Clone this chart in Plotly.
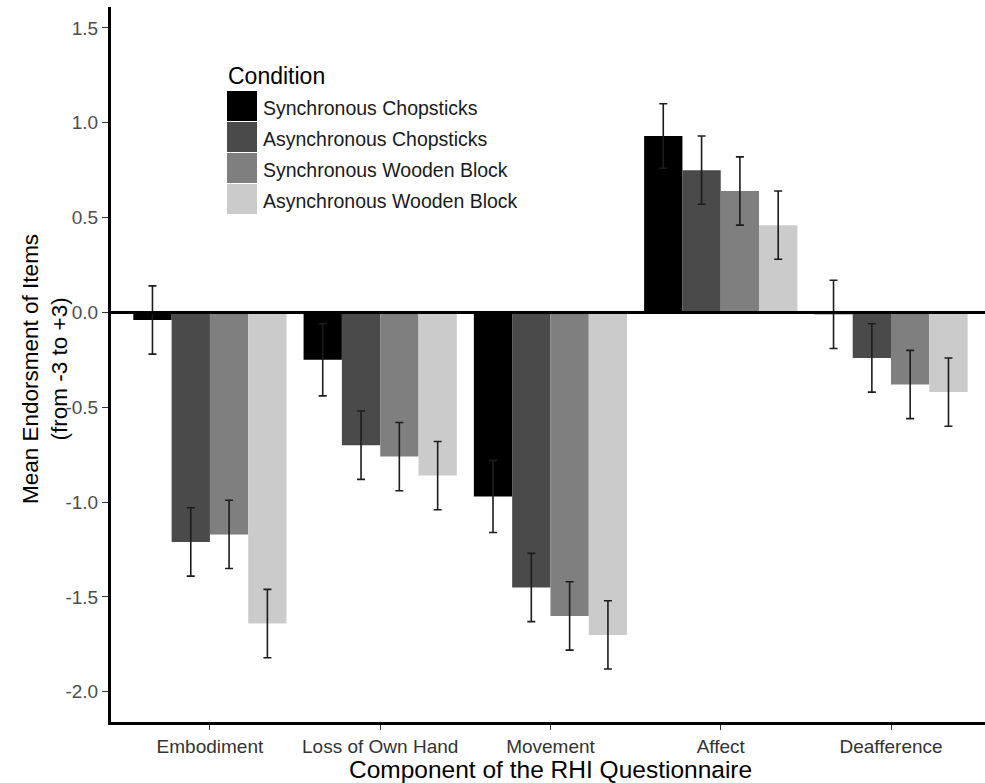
import plotly.graph_objects as go

# ---------------- data ----------------
components = ["Embodiment", "Loss of Own Hand", "Movement", "Affect", "Deafference"]
conditions = ["Synchronous Chopsticks", "Asynchronous Chopsticks",
              "Synchronous Wooden Block", "Asynchronous Wooden Block"]
colors = ["#000000", "#4a4a4a", "#7f7f7f", "#cbcbcb"]

sync_chop_mean = [-0.04, -0.25, -0.97, 0.93, -0.01]
async_chop_mean = [-1.21, -0.70, -1.45, 0.75, -0.24]
sync_wood_mean = [-1.17, -0.76, -1.60, 0.64, -0.38]
async_wood_mean = [-1.64, -0.86, -1.70, 0.46, -0.42]

sync_chop_se = [0.18, 0.19, 0.19, 0.17, 0.18]
async_chop_se = [0.18, 0.18, 0.18, 0.18, 0.18]
sync_wood_se = [0.18, 0.18, 0.18, 0.18, 0.18]
async_wood_se = [0.18, 0.18, 0.18, 0.18, 0.18]

y_tick_vals = [1.5, 1.0, 0.5, 0.0, -0.5, -1.0, -1.5, -2.0]
y_tick_text = ["1.5", "1.0", "0.5", "0.0", "-0.5", "-1.0", "-1.5", "-2.0"]

means = [sync_chop_mean, async_chop_mean, sync_wood_mean, async_wood_mean]
ses = [sync_chop_se, async_chop_se, sync_wood_se, async_wood_se]

# ---------------- figure ----------------
W, H = 985, 783
ML, MR, MT, MB = 111, 0, 7, 61
PW, PH = W - ML - MR, H - MT - MB

font = "Liberation Sans, Arial, sans-serif"

fig = go.Figure()
for name, col, m, s in zip(conditions, colors, means, ses):
    fig.add_trace(go.Bar(
        x=list(range(len(components))), y=m, name=name,
        marker=dict(color=col, line=dict(width=0)),
        error_y=dict(type="data", array=s, visible=True,
                     color="#1c1c1c", thickness=1.6, width=4),
        showlegend=False,
    ))

def px_x(p):
    return (p - ML) / PW

def px_y(p):
    return (H - MB - p) / PH

shapes = [
    # zero reference line (on top of bars)
    dict(type="line", xref="paper", yref="y", x0=0, x1=1, y0=0, y1=0,
         line=dict(color="black", width=3), layer="above"),
]
annotations = []

# custom legend (ggplot-style large keys)
annotations.append(dict(text="Condition", xref="paper", yref="paper",
                        x=px_x(226), y=px_y(76), xanchor="left", yanchor="middle",
                        showarrow=False, font=dict(family=font, size=23, color="black")))
for i, (name, col) in enumerate(zip(conditions, colors)):
    yc = 106 + 31 * i
    shapes.append(dict(type="rect", xref="paper", yref="paper",
                       x0=px_x(227), x1=px_x(257), y0=px_y(yc - 15), y1=px_y(yc + 15),
                       fillcolor=col, line=dict(width=0), layer="above"))
    annotations.append(dict(text=name, xref="paper", yref="paper",
                            x=px_x(261), y=px_y(yc + 2), xanchor="left", yanchor="middle",
                            showarrow=False, font=dict(family=font, size=19.5, color="#1a1a1a")))

# axis titles
annotations.append(dict(text="Component of the RHI Questionnaire", xref="paper", yref="paper",
                        x=px_x(550), y=px_y(770), xanchor="center", yanchor="middle",
                        showarrow=False, font=dict(family=font, size=24.5, color="black")))
annotations.append(dict(text="Mean Endorsment of Items<br>(from -3 to +3)", xref="paper", yref="paper",
                        x=px_x(45), y=px_y(369), xanchor="center", yanchor="middle",
                        textangle=-90, showarrow=False,
                        font=dict(family=font, size=22.5, color="black")))

fig.update_layout(
    width=W, height=H,
    margin=dict(l=ML, r=MR, t=MT, b=MB),
    paper_bgcolor="white", plot_bgcolor="white",
    barmode="group", bargap=0.1, bargroupgap=0.0,
    font=dict(family=font),
    shapes=shapes, annotations=annotations,
    xaxis=dict(
        range=[-0.581, 4.552],
        tickvals=list(range(len(components))), ticktext=components,
        ticks="outside", ticklen=5, tickwidth=1.2, tickcolor="#333333",
        tickfont=dict(family=font, size=19, color="#333333"),
        showline=True, linecolor="black", linewidth=3,
        showgrid=False, zeroline=False,
    ),
    yaxis=dict(
        range=[-2.159, 1.610],
        tickvals=y_tick_vals, ticktext=y_tick_text,
        ticks="outside", ticklen=6, tickwidth=1.2, tickcolor="#333333",
        tickfont=dict(family=font, size=19, color="#4d4d4d"),
        showline=True, linecolor="black", linewidth=3,
        showgrid=False, zeroline=False,
    ),
)

fig.write_html("out.html", config={"displayModeBar": False},
               post_script="document.body.style.margin='0px';")
